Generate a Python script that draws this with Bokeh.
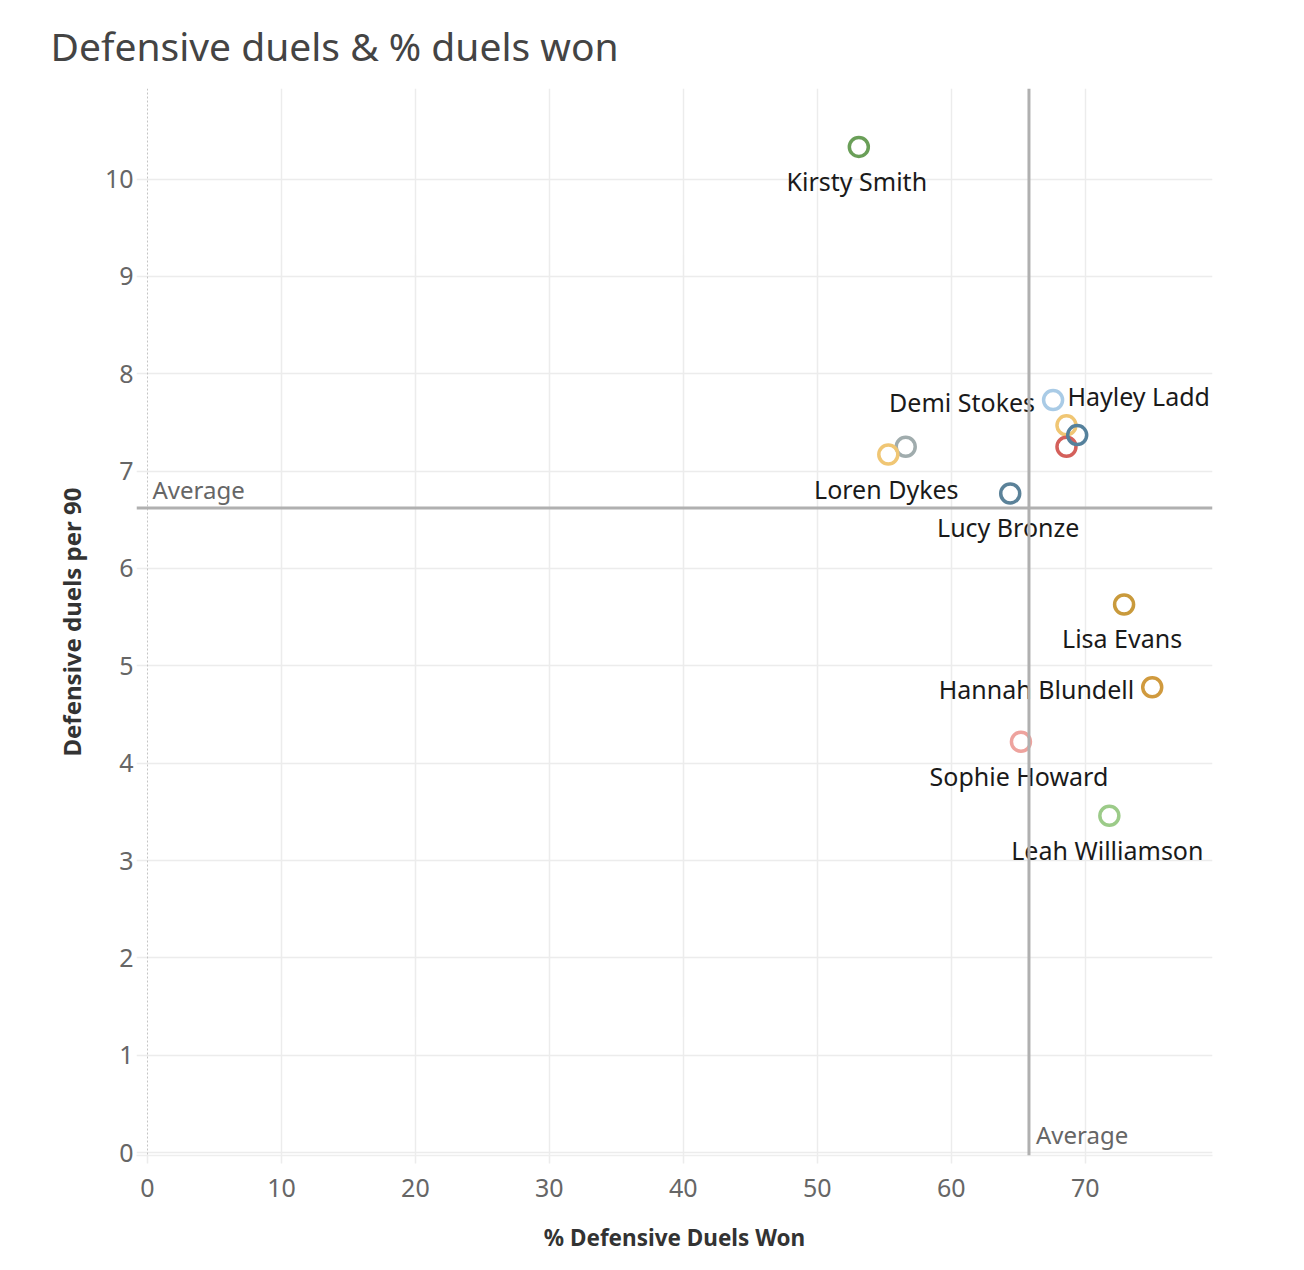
from bokeh.plotting import figure
from bokeh.models import ColumnDataSource, Range1d, Span, Label, FixedTicker
from bokeh.core.properties import value
from bokeh.embed import file_html
from bokeh.resources import INLINE

# ---- data ----
labels = ["", "Kirsty Smith", "Demi Stokes", "Hayley Ladd", "", "", "Loren Dykes",
          "Lucy Bronze", "Lisa Evans", "Hannah Blundell", "Sophie Howard", "Leah Williamson"]
pct_won = [56.6, 53.1, 67.6, 68.6, 68.6, 69.4, 55.3, 64.4, 72.9, 75.0, 65.2, 71.8]
duels_per90 = [7.25, 10.33, 7.73, 7.47, 7.25, 7.37, 7.17, 6.77, 5.63, 4.78, 4.22, 3.46]
colors = ["#a0acad", "#6a9f58", "#a9cbe6", "#f0c674", "#d4605b", "#55819c", "#f0c674",
          "#5b8299", "#c99a3c", "#d09a3e", "#eea39e", "#9ccb89"]
avg_pct = 65.8
avg_duels = 6.62
x_ticks = [0, 10, 20, 30, 40, 50, 60, 70]
y_ticks = [0, 1, 2, 3, 4, 5, 6, 7, 8, 9, 10]

# label placement (style only)
placement = {"Kirsty Smith": "below", "Demi Stokes": "left", "Hayley Ladd": "aboveright",
             "Loren Dykes": "below", "Lucy Bronze": "below", "Lisa Evans": "below",
             "Hannah Blundell": "left", "Sophie Howard": "below", "Leah Williamson": "below"}
place_style = {"below": (-2, 34, "center"), "left": (-18, 2, "right"),
               "aboveright": (1, -29, "left"), "": (0, 0, "center")}

xo, yo, al = [], [], []
for n in labels:
    s = place_style[placement.get(n, "")]
    xo.append(s[0]); yo.append(s[1]); al.append(s[2])

src = ColumnDataSource(dict(x=pct_won, y=duels_per90, c=colors, t=labels, xo=xo, yo=yo, al=al))

FONT = "Noto Sans"

p = figure(width=1288, height=1258, output_backend="svg", toolbar_location=None,
           x_range=Range1d(-0.82, 79.5), y_range=Range1d(-0.03, 10.93),
           min_border_left=136, min_border_right=76, min_border_top=88, min_border_bottom=103)
p.outline_line_color = None
p.background_fill_color = "white"
p.border_fill_color = "white"

p.title.text = "Defensive duels & % duels won"
p.title.text_font = FONT
p.title.text_font_size = "39px"
p.title.text_font_style = "normal"
p.title.text_color = "#444444"
p.title.align = "left"
p.title.offset = -86
p.title.standoff = 33

# grids
p.xgrid.ticker = FixedTicker(ticks=[t for t in x_ticks if t != 0])
p.ygrid.ticker = FixedTicker(ticks=y_ticks)
p.xgrid.grid_line_color = "#ececec"
p.ygrid.grid_line_color = "#ececec"
p.xgrid.grid_line_width = 1.5
p.ygrid.grid_line_width = 1.5

# axes
p.xaxis.ticker = FixedTicker(ticks=x_ticks)
p.yaxis.ticker = FixedTicker(ticks=y_ticks)
for ax in (p.xaxis, p.yaxis):
    ax.major_label_text_font = FONT
    ax.major_label_text_font_size = "25px"
    ax.major_label_text_color = "#666666"
    ax.axis_label_text_font = FONT
    ax.axis_label_text_font_style = "bold"
    ax.axis_label_text_color = "#333333"
    ax.minor_tick_line_color = None
p.xaxis.axis_label = "% Defensive Duels Won"
p.yaxis.axis_label = "Defensive duels per 90"
p.xaxis.axis_label_text_font_size = "22.5px"
p.yaxis.axis_label_text_font_size = "24px"
p.xaxis.axis_line_color = "#eeeeee"
p.xaxis.axis_line_width = 1.5
p.xaxis.major_tick_line_color = "#ececec"
p.xaxis.major_tick_line_width = 1.5
p.xaxis.major_tick_in = 0
p.xaxis.major_tick_out = 8
p.xaxis.major_label_standoff = 15
p.xaxis.axis_label_standoff = 22
p.yaxis.axis_line_color = None
p.yaxis.major_tick_line_color = None
p.yaxis.major_tick_in = 0
p.yaxis.major_tick_out = 0
p.yaxis.major_label_standoff = 3
p.yaxis.axis_label_standoff = 14

# zero line (dotted)
p.add_layout(Span(location=0, dimension="height", line_color="#c4c4c4",
                  line_dash="2 2", line_width=1))

# average reference lines
p.add_layout(Span(location=avg_duels, dimension="width", line_color="#b0b0b0", line_width=3))
p.add_layout(Span(location=avg_pct, dimension="height", line_color="#b0b0b0", line_width=3))
p.add_layout(Label(x=0, y=avg_duels, text="Average", x_offset=5, y_offset=2,
                   text_font=FONT, text_font_size="24px", text_color="#666666",
                   text_baseline="bottom"))
p.add_layout(Label(x=avg_pct, y=0, text="Average", x_offset=7, y_offset=2,
                   text_font=FONT, text_font_size="24px", text_color="#666666",
                   text_baseline="bottom"))

# points
p.scatter("x", "y", source=src, size=19, fill_color=None, line_color="c", line_width=3.5)

# labels
p.text("x", "y", text="t", source=src, x_offset="xo", y_offset="yo", text_align="al",
       text_baseline="middle", text_font=value(FONT), text_font_size="25px",
       text_color="#1a1a1a")

open("out.html", "w").write(file_html(p, INLINE))
